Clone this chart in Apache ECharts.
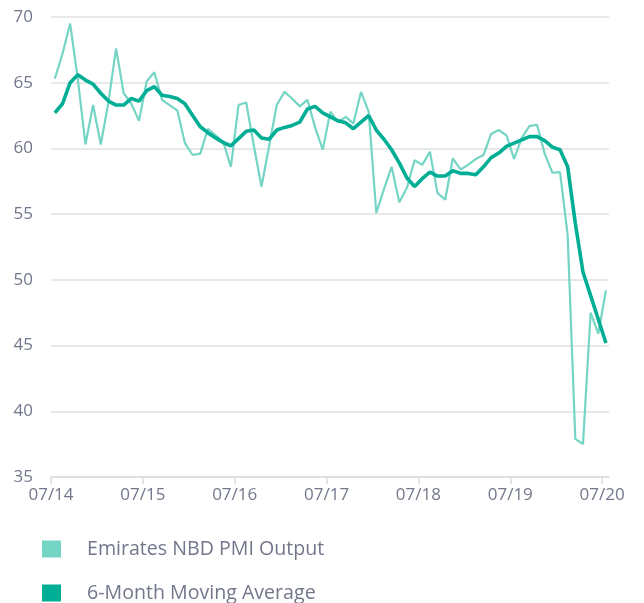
<!DOCTYPE html>
<html>
<head>
<meta charset="utf-8">
<script src="https://cdn.jsdelivr.net/npm/echarts@6/dist/echarts.min.js"></script>
<style>
html,body{margin:0;padding:0;background:#fff;}
#chart{width:644px;height:603px;}
</style>
</head>
<body>
<div id="chart"></div>
<script>
// Monthly data, Jul 2014 .. Jul 2020 (73 months)
const tickLabels = ['07/14','07/15','07/16','07/17','07/18','07/19','07/20'];
const seriesNames = ['Emirates NBD PMI Output', '6-Month Moving Average'];
const pmiOutput = [
  65.3, 67.2, 69.5, 65.3, 60.3, 63.3, 60.3, 63.5, 67.6, 64.2, 63.4, 62.1,
  65.1, 65.8, 63.7, 63.3, 62.9, 60.4, 59.5, 59.6, 61.5, 61.0, 60.5, 58.6,
  63.3, 63.5, 60.2, 57.1, 60.2, 63.3, 64.3, 63.8, 63.2, 63.7, 61.6, 59.9,
  62.8, 62.0, 62.4, 61.9, 64.3, 62.8, 55.1, 56.9, 58.6, 55.9, 57.0, 59.1,
  58.75, 59.75, 56.6, 56.1, 59.25, 58.4, 58.75, 59.2, 59.5, 61.1, 61.4, 61.0,
  59.2, 60.8, 61.7, 61.8, 59.6, 58.15, 58.2, 53.4, 37.9, 37.5, 47.5, 45.9,
  49.2
];
const movingAvg = [
  62.7, 63.4, 65.0, 65.6, 65.2, 64.9, 64.2, 63.6, 63.3, 63.3, 63.8, 63.6,
  64.4, 64.7, 64.05, 63.95, 63.8, 63.4, 62.5, 61.65, 61.2, 60.8, 60.45, 60.2,
  60.75, 61.3, 61.4, 60.8, 60.7, 61.4, 61.6, 61.75, 62.0, 63.0, 63.2, 62.7,
  62.4, 62.1, 61.95, 61.5, 62.0, 62.5, 61.4, 60.7, 59.9, 58.9, 57.75, 57.1,
  57.7, 58.2, 57.9, 57.9, 58.3, 58.1, 58.1, 58.0, 58.6, 59.3, 59.65, 60.15,
  60.4, 60.65, 60.9, 60.9, 60.6, 60.1, 59.9, 58.6, 54.3, 50.6, 48.8, 47.0,
  45.2
];

const textColor = '#72778b';
const font = 'Open Sans';
// each month plotted at mid-month (index + 0.5 months after the start tick)
const toPairs = arr => arr.map((v, i) => [i + 0.5, v]);
const tickValues = tickLabels.map((_, k) => k * 12);

const chart = echarts.init(document.getElementById('chart'));
chart.setOption({
  animation: false,
  grid: { left: 51, right: 35, top: 17, bottom: 126, containLabel: false },
  xAxis: {
    type: 'value',
    min: 0,
    max: 72.9,
    interval: 12,
    axisLine: { show: true, lineStyle: { color: '#dcdcdc', width: 1.5 } },
    axisTick: { show: true, length: 7, lineStyle: { color: '#dcdcdc', width: 1.5 }, customValues: tickValues },
    axisLabel: {
      customValues: tickValues,
      formatter: v => tickLabels[Math.round(v / 12)] || '',
      color: textColor, fontFamily: font, fontSize: 17, margin: 10
    },
    splitLine: { show: false }
  },
  yAxis: {
    type: 'value',
    min: 35, max: 70, interval: 5,
    axisLine: { show: false },
    axisTick: { show: false },
    axisLabel: { color: textColor, fontFamily: font, fontSize: 17, margin: 18 },
    splitLine: { lineStyle: { color: '#e0e0e0', width: 1.5 } }
  },
  legend: {
    orient: 'vertical',
    left: 42, top: 539,
    padding: 0,
    height: 120,
    itemWidth: 19, itemHeight: 17, itemGap: 24,
    icon: 'rect',
    textStyle: { color: textColor, fontFamily: font, fontSize: 19.6, lineHeight: 17, padding: [0, 0, 0, 21] },
    data: seriesNames
  },
  series: [
    {
      name: seriesNames[0], type: 'line', symbol: 'none',
      data: toPairs(pmiOutput),
      itemStyle: { color: '#74d5c5' },
      lineStyle: { color: '#74d5c5', width: 2.2 },
      z: 2
    },
    {
      name: seriesNames[1], type: 'line', symbol: 'none',
      data: toPairs(movingAvg),
      itemStyle: { color: '#00ae95' },
      lineStyle: { color: '#00ae95', width: 3.6 },
      z: 3
    }
  ]
});
</script>
</body>
</html>
